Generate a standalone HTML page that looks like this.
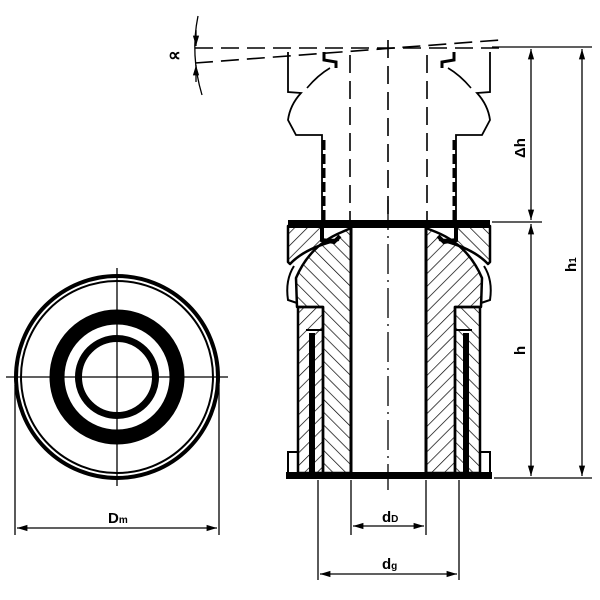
<!DOCTYPE html>
<html><head><style>body{margin:0;background:#fff}svg{display:block}</style></head><body>
<svg width="600" height="600" viewBox="0 0 600 600" xmlns="http://www.w3.org/2000/svg" font-family="Liberation Sans, sans-serif">
<defs>
<pattern id="hl" patternUnits="userSpaceOnUse" width="9" height="9" patternTransform="rotate(45)"><line x1="0" y1="0" x2="0" y2="9" stroke="#000" stroke-width="1.4"/></pattern>
<pattern id="hr" patternUnits="userSpaceOnUse" width="9" height="9" patternTransform="rotate(-45)"><line x1="0" y1="0" x2="0" y2="9" stroke="#000" stroke-width="1.4"/></pattern>
<marker id="a" viewBox="0 0 10 10" refX="10" refY="5" markerWidth="8" markerHeight="8" orient="auto-start-reverse"><path d="M0,2 L10,5 L0,8z" fill="#000"/></marker>
</defs>
<rect width="600" height="600" fill="#fff"/>
<!-- left view -->
<g fill="none" stroke="#000">
<circle cx="117" cy="377" r="101" stroke-width="4"/>
<circle cx="117" cy="377" r="96" stroke-width="2"/>
<circle cx="117" cy="377" r="60" stroke-width="15"/>
<circle cx="117" cy="377" r="38.5" stroke-width="7"/>
<line x1="6" y1="377" x2="228" y2="377" stroke-width="1.3"/>
<line x1="117" y1="268" x2="117" y2="486" stroke-width="1.3"/>
<line x1="15" y1="385" x2="15" y2="535" stroke-width="1.3"/>
<line x1="219" y1="385" x2="219" y2="535" stroke-width="1.3"/>
<line x1="17" y1="528" x2="217" y2="528" stroke-width="1.3" marker-start="url(#a)" marker-end="url(#a)"/>
</g>
<text x="108" y="523" font-size="15" font-weight="bold">D<tspan font-size="10">m</tspan></text>
<!-- section view -->
<g stroke="#000" stroke-width="2.5" stroke-linejoin="round">
<!-- outer sleeves -->
<path d="M298,307 L323,307 L323,473 L298,473 Z" fill="url(#hl)"/>
<path d="M480,307 L455,307 L455,473 L480,473 Z" fill="url(#hr)"/>
<!-- inner bodies with ball -->
<path d="M351,228 L351,473 L323,473 L323,307 L297,307 L296,278 Q310,245 342,232 Z" fill="url(#hr)"/>
<path d="M426,228 L426,473 L455,473 L455,307 L481,307 L482,278 Q468,245 436,232 Z" fill="url(#hl)"/>
<!-- caps -->
<path d="M288,226 L322,226 L322,240 L338,240 Q305,248 290,264 L288,262 Z" fill="url(#hl)"/>
<path d="M490,226 L456,226 L456,240 L440,240 Q473,248 488,264 L490,262 Z" fill="url(#hr)"/>
</g>
<g stroke="#000" fill="none">
<rect x="288" y="220" width="202" height="8" fill="#000" stroke="none"/>
<rect x="286" y="472" width="206" height="7" fill="#000" stroke="none"/>
<path d="M322,228 L322,240 L334,242 L340,236" stroke-width="4"/>
<path d="M456,228 L456,240 L444,242 L438,236" stroke-width="4"/>
<line x1="312" y1="333" x2="312" y2="472" stroke-width="6"/>
<line x1="466" y1="333" x2="466" y2="472" stroke-width="6"/>
<path d="M306,330 L323,330" stroke-width="2"/>
<path d="M472,330 L455,330" stroke-width="2"/>
<path d="M294,266 Q285,280 288,300 L297,303" stroke-width="2"/>
<path d="M484,266 Q493,280 490,300 L481,303" stroke-width="2"/>
<path d="M298,452 L288,452 L288,474" stroke-width="2"/>
<path d="M480,452 L490,452 L490,474" stroke-width="2"/>
<line x1="351" y1="228" x2="351" y2="474" stroke-width="3"/>
<line x1="426" y1="228" x2="426" y2="474" stroke-width="3"/>
<line x1="388" y1="200" x2="388" y2="490" stroke-width="1.3" stroke-dasharray="30,6,2,6"/>
<!-- phantom -->
<g stroke-width="1.6" stroke-dasharray="18,8">
<line x1="195" y1="48" x2="500" y2="48"/>
<line x1="195" y1="63" x2="500" y2="40"/>
<line x1="350" y1="55" x2="350" y2="220"/>
<line x1="427" y1="55" x2="427" y2="220"/>
<line x1="388" y1="40" x2="388" y2="220"/>
</g>
<path d="M288,52 L288,92 L301,93 Q290,105 288,120 L296,135 L322,135 L322,220" stroke-width="1.8"/>
<path d="M490,52 L490,92 L477,93 Q488,105 490,120 L482,135 L456,135 L456,220" stroke-width="1.8"/>
<path d="M307,88 Q318,75 330,68" stroke-width="1.6"/>
<path d="M471,88 Q460,75 448,68" stroke-width="1.6"/>
<path d="M324,52 L324,60 L336,62 L336,68" stroke-width="3"/>
<path d="M454,52 L454,60 L442,62 L442,68" stroke-width="3"/>
<line x1="324" y1="140" x2="324" y2="220" stroke-width="3" stroke-dasharray="10,4"/>
<line x1="454" y1="140" x2="454" y2="220" stroke-width="3" stroke-dasharray="10,4"/>
<!-- alpha -->
<path d="M198,16 Q190,55 202,95" stroke-width="1.3"/>
<line x1="196" y1="30" x2="196" y2="46" stroke-width="1.3" marker-end="url(#a)"/>
<line x1="196" y1="82" x2="196" y2="65" stroke-width="1.3" marker-end="url(#a)"/>
<!-- dims right -->
<g stroke-width="1.3">
<line x1="492" y1="47" x2="592" y2="47"/>
<line x1="492" y1="222" x2="542" y2="222"/>
<line x1="494" y1="478" x2="592" y2="478"/>
<line x1="531" y1="49" x2="531" y2="220" marker-start="url(#a)" marker-end="url(#a)"/>
<line x1="531" y1="224" x2="531" y2="476" marker-start="url(#a)" marker-end="url(#a)"/>
<line x1="582" y1="49" x2="582" y2="476" marker-start="url(#a)" marker-end="url(#a)"/>
<line x1="351" y1="480" x2="351" y2="535"/>
<line x1="426" y1="480" x2="426" y2="535"/>
<line x1="353" y1="526" x2="424" y2="526" marker-start="url(#a)" marker-end="url(#a)"/>
<line x1="318" y1="480" x2="318" y2="580"/>
<line x1="459" y1="480" x2="459" y2="580"/>
<line x1="320" y1="574" x2="457" y2="574" marker-start="url(#a)" marker-end="url(#a)"/>
</g>
</g>
<text x="168" y="61" font-size="18" font-weight="bold">∝</text>
<text x="382" y="522" font-size="15" font-weight="bold">d<tspan font-size="10">D</tspan></text>
<text x="382" y="569" font-size="15" font-weight="bold">d<tspan font-size="10">g</tspan></text>
<text transform="translate(525,355) rotate(-90)" font-size="15" font-weight="bold">h</text>
<text transform="translate(525,158) rotate(-90)" font-size="15" font-weight="bold">Δh</text>
<text transform="translate(576,272) rotate(-90)" font-size="15" font-weight="bold">h<tspan font-size="10">1</tspan></text>
</svg>
</body></html>
